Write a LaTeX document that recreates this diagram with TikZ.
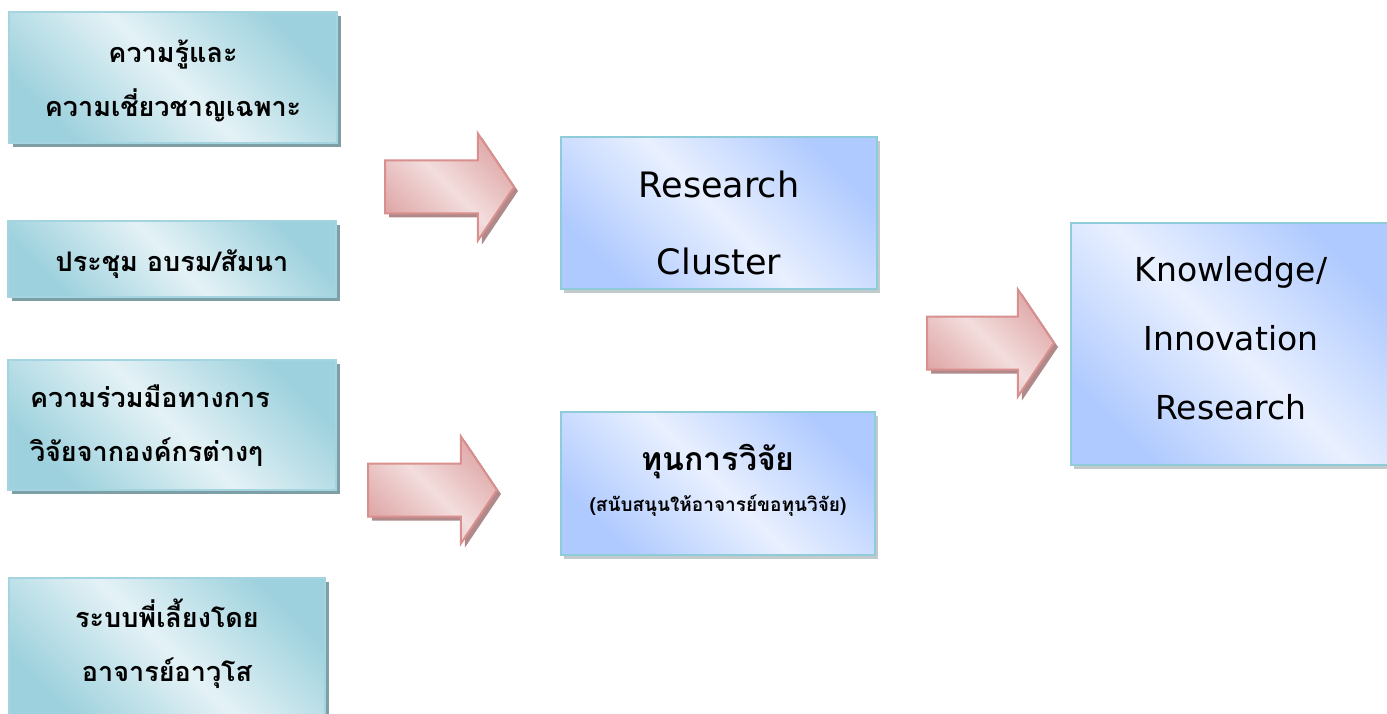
\documentclass[tikz,border=0pt]{standalone}
\usepackage{fontspec}
\newfontfamily\thaifont[Script=Thai]{Loma}
\newfontfamily\latinfont{DejaVu Sans}
\usetikzlibrary{shapes.arrows,shadows}
\definecolor{tealdark}{HTML}{9DD1DD}
\definecolor{teallight}{HTML}{E4F2F6}
\definecolor{tealline}{HTML}{A3D4DF}
\definecolor{tealshadow}{HTML}{7F9FA7}
\definecolor{bluedark}{HTML}{AFCAFF}
\definecolor{bluelight}{HTML}{E9F0FF}
\definecolor{blueline}{HTML}{8FCCDA}
\definecolor{blueshadow}{HTML}{9AA6AA}
\definecolor{pinkdark}{HTML}{E0A9A9}
\definecolor{pinklight}{HTML}{F3DDDD}
\definecolor{pinkline}{HTML}{D88F8E}
\definecolor{pinkshadow}{HTML}{B08A8A}
\tikzset{
  inbox/.style={draw=tealline,line width=2pt,top color=tealdark,bottom color=tealdark,middle color=teallight,shading angle=-45,
    drop shadow={shadow xshift=4pt,shadow yshift=-4pt,fill=tealshadow,opacity=1},
    minimum width=328pt,inner sep=0pt},
  outbox/.style={draw=blueline,line width=2pt,top color=bluedark,bottom color=bluedark,middle color=bluelight,shading angle=-45,
    drop shadow={shadow xshift=3pt,shadow yshift=-4pt,fill=blueshadow,opacity=0.6},
    inner sep=0pt},
  intext/.style={inner sep=0pt,align=center,font=\thaifont\bfseries\fontsize{27}{54}\selectfont},
  outtext/.style={inner sep=0pt,align=center,font=\latinfont\fontsize{35}{77}\selectfont},
  flowarrow/.style={single arrow,draw=pinkline,line width=2pt,top color=pinkdark,bottom color=pinkdark,middle color=pinklight,shading angle=-45,
    drop shadow={shadow xshift=4pt,shadow yshift=-4pt,fill=pinkshadow,opacity=1},
    minimum height=129pt,minimum width=105pt,single arrow head extend=27pt,single arrow tip angle=112,
    inner xsep=0pt,inner ysep=25.5pt,anchor=tail},
}
\begin{document}
\begin{tikzpicture}[x=1pt,y=-1pt]
  \useasboundingbox (0,0) rectangle (1387,714);
  \clip (0,0) rectangle (1387,714);
  % inputs
  \node[inbox,minimum height=131pt] (know) at (173,78) {};
  \node[intext] (knowtxt) at (173,81) {ความรู้และ\\ความเชี่ยวชาญเฉพาะ};
  \node[inbox,minimum height=76pt] (meet) at (172,259) {};
  \node[intext] (meettxt) at (172,264) {ประชุม อบรม/สัมนา};
  \node[inbox,minimum height=130pt] (coop) at (172,425) {};
  \node[intext,text width=284pt,align=left] (cooptxt) at (172,426) {ความร่วมมือทางการ\\วิจัยจากองค์กรต่างๆ};
  \node[inbox,minimum width=316pt,minimum height=142pt] (mentor) at (167,649) {};
  \node[intext] (mentortxt) at (167,644) {ระบบพี่เลี้ยงโดย\\อาจารย์อาวุโส};
  % middle
  \node[outbox,minimum width=316pt,minimum height=152pt] (cluster) at (719,213) {};
  \node[outtext] (clustertxt) at (719,223) {Research\\Cluster};
  \node[outbox,minimum width=314pt,minimum height=143pt] (fund) at (718,483) {};
  \node[intext,font=\thaifont\bfseries] (fundtxt) at (718,480) {{\fontsize{32}{40}\selectfont ทุนการวิจัย}\\[15pt]{\fontsize{19}{24}\selectfont (สนับสนุนให้อาจารย์ขอทุนวิจัย)}};
  % output
  \node[outbox,minimum width=320pt,minimum height=242pt] (result) at (1231,344) {};
  \node[outtext,font=\latinfont\fontsize{33}{69}\selectfont] (resulttxt) at (1231,338) {Knowledge/\\Innovation\\Research};
  % block arrows
  \node[flowarrow] (arrA) at (384,187) {};
  \node[flowarrow] (arrB) at (367,490) {};
  \node[flowarrow,minimum height=127pt] (arrC) at (926,343) {};
\end{tikzpicture}
\end{document}
